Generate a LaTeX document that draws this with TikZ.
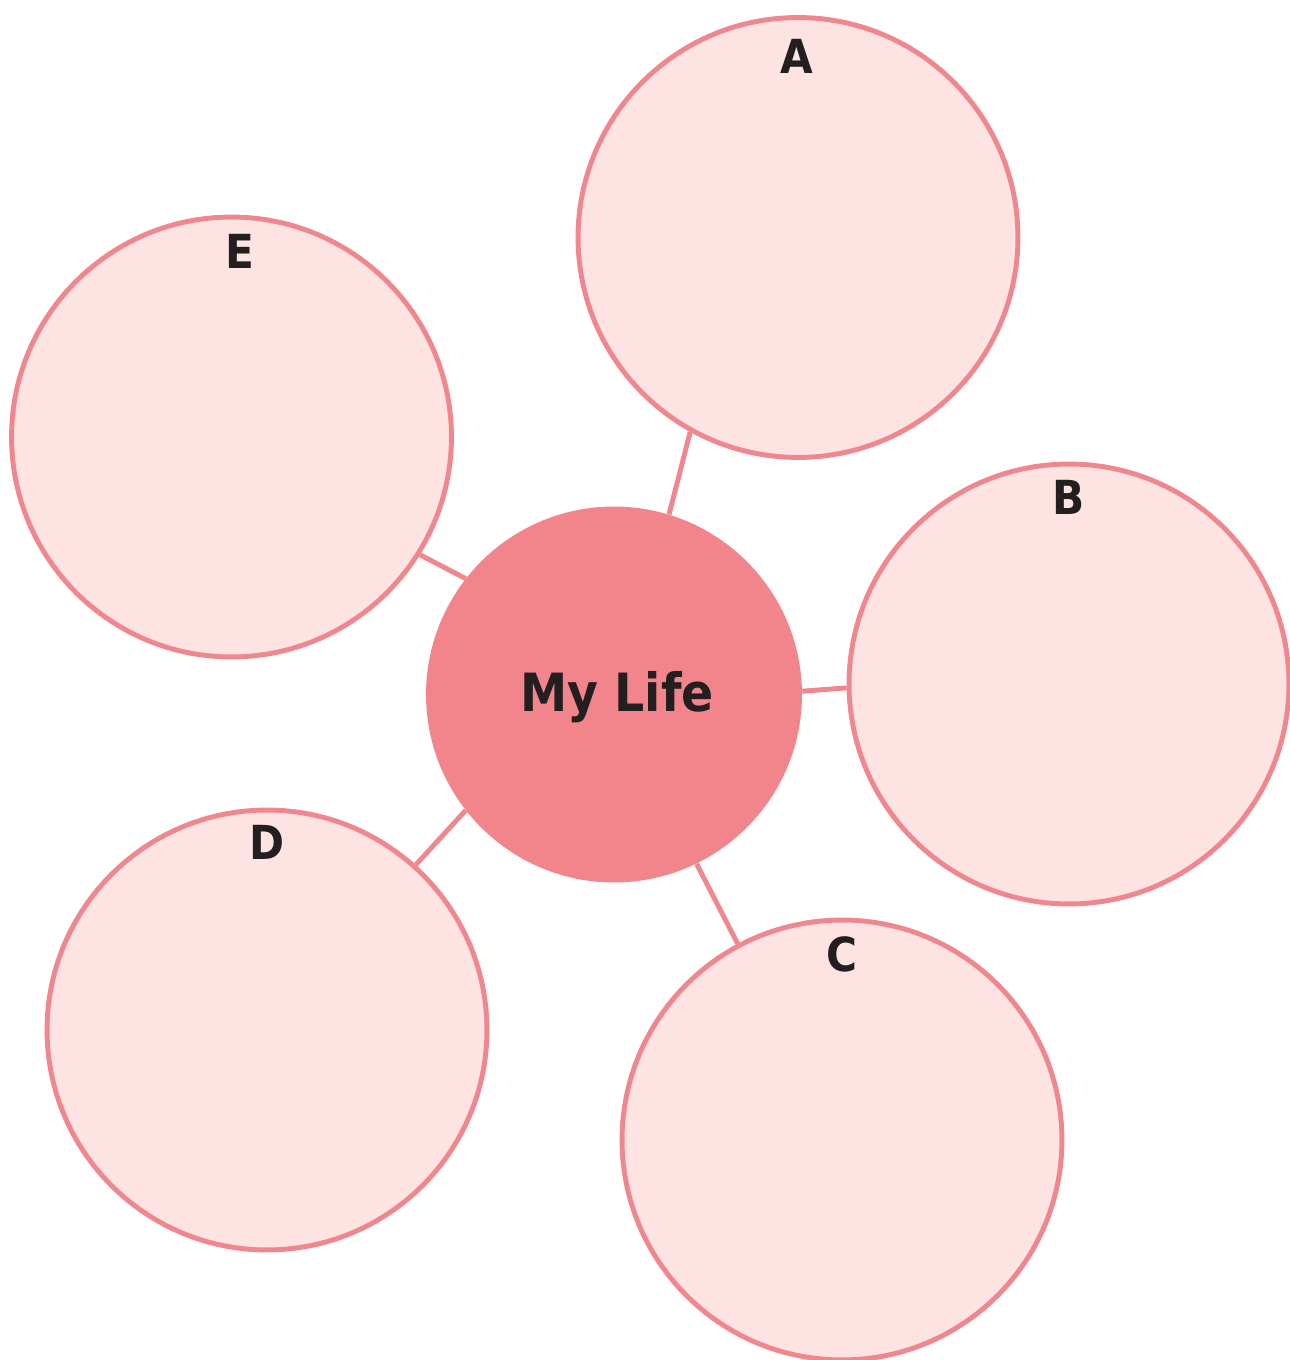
\documentclass[tikz,border=0pt]{standalone}
\usepackage{fontspec}
\setmainfont{DejaVu Sans Condensed}
\definecolor{petal}{HTML}{FDE3E2}
\definecolor{rim}{HTML}{F0868E}
\definecolor{heart}{HTML}{F2858B}
\definecolor{ink}{HTML}{231F20}
\tikzset{
  petalcirc/.style={circle,draw=rim,fill=petal,line width=2.8pt,minimum size=8.8cm,inner sep=0pt},
  heartcirc/.style={circle,fill=heart,minimum size=7.52cm,inner sep=0pt},
  lbl/.style={anchor=base,text=ink,font=\bfseries\fontsize{26.7}{30}\selectfont,inner sep=0pt},
  stem/.style={draw=rim,line width=2.8pt}
}
\begin{document}
\begin{tikzpicture}[x=0.02cm,y=0.02cm]
\useasboundingbox (0,0) rectangle (1290,1360);

\node[heartcirc] (life) at (614,665.5) {};
\node[anchor=base,text=ink,font=\bfseries\fontsize{30}{34}\selectfont,inner sep=0pt] (lifetxt) at (617,648) {My Life};

\node[petalcirc] (A) at (798,1122.5) {};
\node[lbl] (la) at (797,1286) {A};

\node[petalcirc] (B) at (1069,676) {};
\node[lbl] (lb) at (1069,845) {B};

\node[petalcirc] (C) at (842,220) {};
\node[lbl] (lc) at (842,388) {C};

\node[petalcirc] (D) at (267,330) {};
\node[lbl] (ld) at (267,500) {D};

\node[petalcirc] (E) at (231.5,923) {};
\node[lbl] (le) at (240,1091) {E};

\draw[stem] (life.73.5) -- (A.241.7);
\draw[stem] (life.1.4) -- (B.181.6);
\draw[stem] (life.-64.6) -- (C.118.8);
\draw[stem] (life.218.9) -- (D.48.1);
\draw[stem] (life.142.8) -- (E.-32.5);
\end{tikzpicture}
\end{document}
